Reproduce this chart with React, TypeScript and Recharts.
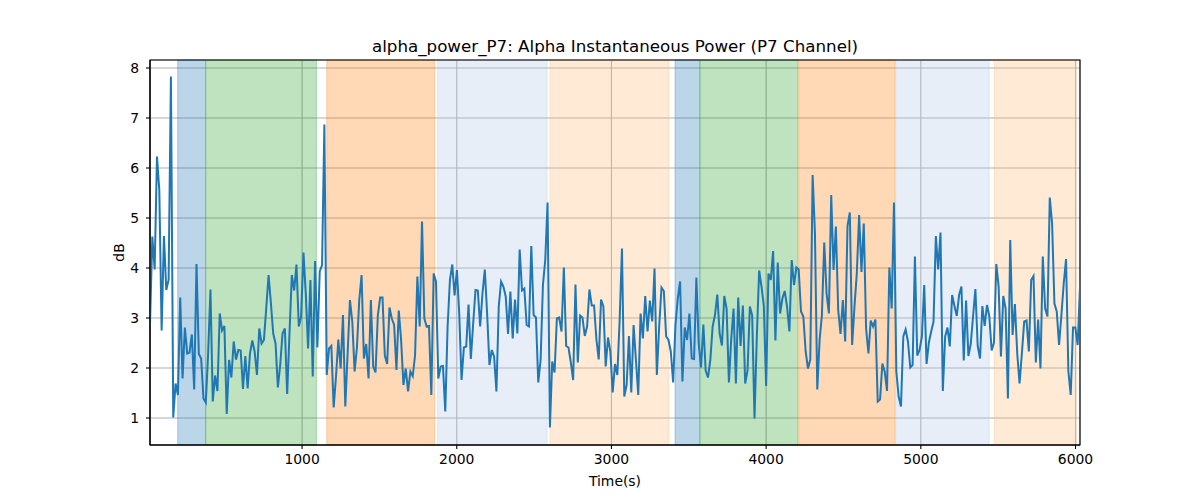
import { LineChart, Line, XAxis, YAxis, CartesianGrid, ReferenceArea } from "recharts"

// alpha power, one value every ~15 s, split by stretch of the recording
const power1 = [2.89, 4.63, 3.97, 6.23, 5.56, 2.75, 4.64, 3.56, 3.76, 7.83,
  1.01, 1.69, 1.46, 3.41, 1.79, 2.81, 2.29, 2.31, 2.67, 1.57,
  4.08, 2.28, 2.19, 1.39, 1.31, 2.29, 3.57, 1.33, 1.85, 1.54,
  3.09, 2.75, 2.84, 1.08, 2.16, 1.81, 2.53, 2.17, 2.36, 2.35,
  1.58, 2.24, 1.59, 2.29, 2.55, 2.33, 1.86, 2.79, 2.49, 2.56,
  3.2, 3.86, 3.3, 2.69, 2.49, 1.61, 2.06, 2.69, 2.79, 1.48,
  2.7, 3.86, 3.55, 4.07, 2.83, 3.03, 4.31]
const power2 = [3.49, 2.39, 3.76, 1.83, 4.14, 2.41, 3.93, 4.06, 6.87, 1.86,
  2.39, 2.44, 1.21, 1.83, 2.57, 1.99, 3.06, 1.23, 2.29, 3.36,
  2.93, 1.93, 2.41, 3.36, 3.86, 2.19, 2.48, 1.79, 3.36, 2.03,
  1.91, 3.06, 3.41, 3.41, 2.25, 2.08, 3.21, 2.99, 2.86, 1.96,
  3.15, 2.56, 1.66, 1.99, 1.53, 1.93, 1.84, 2.25, 3.83, 2.83,
  4.93, 2.99, 2.83, 2.84, 1.46, 3.89, 3.73, 1.79, 2.03, 2.04,
  1.13, 2.83, 3.76, 4.07, 3.45, 3.96]
const power3 = [3.09, 1.76, 2.41, 2.43, 3.27, 2.18, 2.89, 3.56, 3.55, 2.83,
  3.49, 3.97, 3.09, 2.06, 2.36, 2.23, 1.53, 3.23, 3.73, 3.63,
  3.43, 2.68, 3.53, 2.59, 3.37, 2.69, 4.37, 3.55, 3.59, 2.86,
  2.83, 4.44, 3.06, 3.01, 1.71, 2.16, 3.66, 4.16, 5.31, 0.81,
  2.13, 1.91, 2.99, 3.01, 2.73, 4.01, 2.44, 2.41, 2.11, 1.76,
  3.67, 2.11, 3.05, 3.01, 2.64, 2.83, 3.57, 3.25, 3.25, 2.57,
  2.17, 3.37, 3.23, 2.03, 2.61, 2.33, 1.51]
const power4 = [2.08, 1.86, 2.96, 4.39, 1.43, 1.66, 2.64, 1.51, 2.86, 2.16,
  1.46, 3.09, 2.59, 3.44, 2.73, 3.35, 2.93, 3.99, 1.86, 2.83,
  3.61, 3.54, 2.63, 2.56, 2.33, 1.71, 2.86, 3.39, 3.73, 1.73,
  2.81, 2.56, 3.09, 2.19, 2.18, 3.81, 2.49, 2.01, 2.87, 1.95,
  1.81, 2.16, 2.83, 3.06, 3.47, 2.69, 2.45, 3.44, 3.19, 1.71,
  2.59, 3.19, 1.69, 3.41, 2.44, 3.25, 1.69, 1.95, 3.23, 3.05,
  0.99, 2.63, 3.95, 3.63, 3.25, 1.64, 3.89]
const power5 = [3.76, 4.34, 2.55, 4.11, 3.09, 3.39, 3.54, 3.23, 2.73, 4.16,
  3.66, 4.01, 3.97, 3.13, 3.03, 2.33, 1.99, 2.17, 5.86, 4.69,
  1.57, 2.56, 3.06, 4.51, 3.49, 3.09, 5.46, 3.96, 4.83, 3.16,
  2.68, 3.36, 2.53, 4.84, 5.11, 2.46, 3.23, 3.89, 5.06, 3.92,
  4.89, 2.79, 2.29, 2.95, 2.83, 2.97, 1.33, 1.37, 2.09, 1.93,
  1.54, 4.01, 3.19, 5.31, 1.93, 1.43, 1.23, 2.63, 2.77, 2.53,
  2.01, 2.06, 4.23, 2.25, 2.36, 2.63, 3.66]
const power6 = [2.08, 2.51, 2.73, 2.93, 4.64, 3.97, 4.71, 1.54, 2.63, 2.81,
  2.43, 3.46, 3.24, 3.04, 3.46, 3.63, 2.15, 3.35, 2.24, 2.48,
  3.03, 3.58, 2.44, 2.19, 3.24, 2.84, 3.26, 3.03, 2.35, 2.51,
  4.08, 3.63, 2.23, 3.44, 3.19, 1.39, 4.56, 2.66, 3.28, 2.29,
  1.69, 2.29, 2.93, 2.95, 2.33, 3.76, 3.84, 2.11, 2.97, 1.99,
  4.23, 3.19, 3.03, 5.41, 4.89, 3.29, 3.13, 2.46, 3.06, 3.69,
  4.18, 1.93, 1.46, 2.81, 2.81, 2.46, 3.65]

const T0 = 17
const STEP = 15.03

// task phases (seconds)
const phaseStart = [196, 377, 1160, 1876, 2602, 3411, 3572, 4211, 4838, 5474]
const phaseEnd = [377, 1093, 1858, 2585, 3372, 3572, 4206, 4834, 5442, 6005]
const phaseKind = ["rest", "eyes", "task", "recall", "recovery", "rest", "eyes", "task", "recall", "recovery"]

const xTicks = [1000, 2000, 3000, 4000, 5000, 6000]
const yTicks = [1, 2, 3, 4, 5, 6, 7, 8]
const Y_MIN = 0.46
const Y_MAX = 8.16

const phaseColor: Record<string, string> = {
  rest: "#1f77b4",
  eyes: "#2ca02c",
  task: "#ff7f0e",
  recall: "#aec7e8",
  recovery: "#ffbb78",
}

const values = [...power1, ...power2, ...power3, ...power4, ...power5, ...power6]
const data = values.map((v, i) => ({ t: T0 + i * STEP, power: v }))
const tEnd = data[data.length - 1].t

const font = "'DejaVu Sans', sans-serif"
const tickStyle = { fill: "#000", fontSize: 13.9, fontFamily: font }

export default function App() {
  return (
    <div style={{ position: "absolute", left: 0, top: 0, width: 1200, height: 500, background: "#fff" }}>
      <svg width={1200} height={500} style={{ position: "absolute", left: 0, top: 0, pointerEvents: "none" }}>
        <text x={615} y={52} textAnchor="middle" fontFamily={font} fontSize={16.7} fill="#000">
          alpha_power_P7: Alpha Instantaneous Power (P7 Channel)
        </text>
      </svg>
      <div style={{ position: "absolute", left: 0, top: 0 }}>
        <LineChart width={1200} height={500} data={data} margin={{ top: 60, right: 120, bottom: 25, left: 0 }}>
          <CartesianGrid stroke="#b0b0b0" strokeWidth={1.1} vertical horizontal />
          {phaseStart.map((s, i) => (
            <ReferenceArea
              key={i}
              x1={s}
              x2={phaseEnd[i]}
              fill={phaseColor[phaseKind[i]]}
              fillOpacity={0.3}
              stroke={phaseColor[phaseKind[i]]}
              strokeOpacity={0.3}
              strokeWidth={1}
            />
          ))}
          <XAxis
            dataKey="t"
            type="number"
            domain={[T0, tEnd]}
            ticks={xTicks}
            allowDataOverflow
            height={30}
            tickSize={4}
            tickMargin={5}
            stroke="#000"
            tick={tickStyle}
            tickLine={{ stroke: "#000", strokeWidth: 1.1 }}
            axisLine={{ stroke: "#000", strokeWidth: 1.1 }}
            label={{ value: "Time(s)", position: "center", dy: 21, fill: "#000", fontSize: 13.9, fontFamily: font }}
          />
          <YAxis
            type="number"
            domain={[Y_MIN, Y_MAX]}
            ticks={yTicks}
            allowDataOverflow
            width={150}
            tickSize={4}
            tickMargin={7}
            tick={tickStyle}
            tickLine={{ stroke: "#000", strokeWidth: 1.1 }}
            axisLine={{ stroke: "#000", strokeWidth: 1.1 }}
            label={{ value: "dB", angle: -90, position: "center", dx: 44, fill: "#000", fontSize: 13.9, fontFamily: font }}
          />
          <Line
            type="linear"
            dataKey="power"
            stroke="#1f77b4"
            strokeWidth={2}
            dot={false}
            isAnimationActive={false}
          />
          {/* axes frame */}
          <ReferenceArea x1={T0} x2={tEnd} y1={Y_MIN} y2={Y_MAX} fill="none" stroke="#000" strokeWidth={1.1} />
        </LineChart>
      </div>
    </div>
  )
}
